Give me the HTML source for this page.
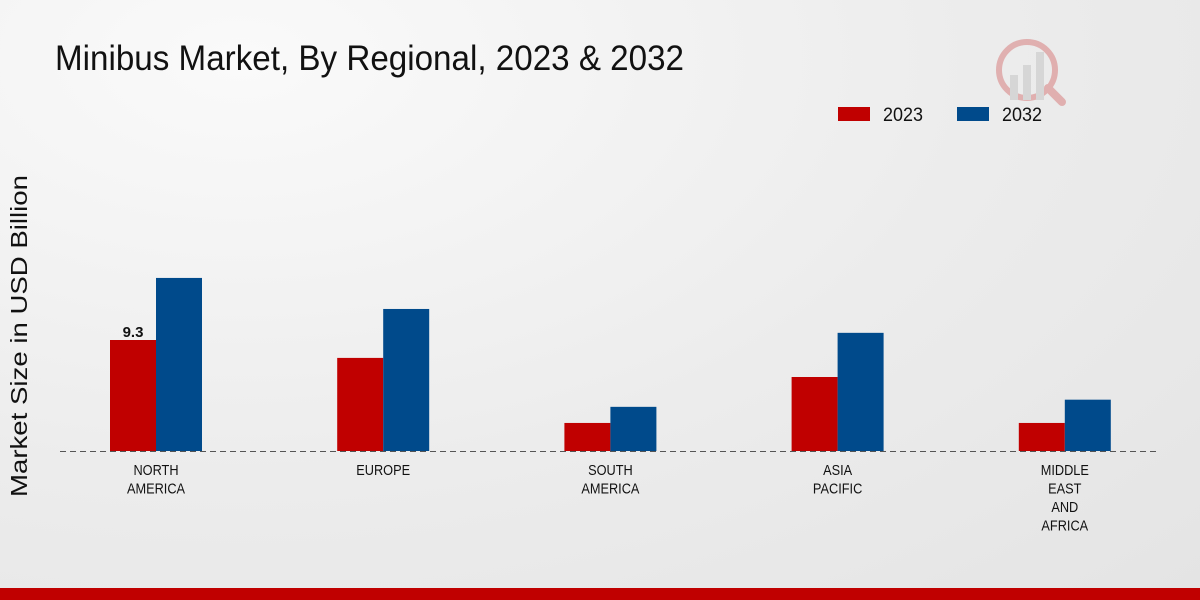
<!DOCTYPE html>
<html><head><meta charset="utf-8"><style>
body{margin:0;width:1200px;height:600px;overflow:hidden;font-family:"Liberation Sans Narrow","Liberation Sans",sans-serif;}
#bg{position:absolute;left:0;top:0;width:1200px;height:600px;background:radial-gradient(ellipse at 20% 10%,#fafafa 0%,#ececec 55%,#e4e4e4 100%);}
</style></head><body>
<div id="bg"></div>
<svg id="c" width="1200" height="600" style="position:absolute;left:0;top:0">
<text x="55" y="70" font-size="35" fill="#111" textLength="629" lengthAdjust="spacingAndGlyphs">Minibus Market, By Regional, 2023 &amp; 2032</text>
<text transform="translate(27,336) rotate(-90)" text-anchor="middle" font-size="23" fill="#111" textLength="322" lengthAdjust="spacingAndGlyphs" font-family="Liberation Sans, sans-serif">Market Size in USD Billion</text>
<g>
<rect x="838" y="107" width="32" height="14" fill="#c00000"/>
<text x="883" y="121" font-size="19" fill="#111" textLength="40" lengthAdjust="spacingAndGlyphs">2023</text>
<rect x="957" y="107" width="32" height="14" fill="#004a8b"/>
<text x="1002" y="121" font-size="19" fill="#111" textLength="40" lengthAdjust="spacingAndGlyphs">2032</text>
</g>
<g opacity="0.25">
<circle cx="1027" cy="70" r="28" fill="none" stroke="#c00000" stroke-width="6"/>
<rect x="1010" y="75" width="8" height="25" fill="#999"/><rect x="1023" y="65" width="8" height="35" fill="#999"/><rect x="1036" y="52" width="8" height="48" fill="#999"/>
<line x1="1048" y1="88" x2="1062" y2="102" stroke="#c00000" stroke-width="8" stroke-linecap="round"/>
</g>
<line x1="60" y1="451.5" x2="1160" y2="451.5" stroke="#555" stroke-dasharray="6,4"/>
<g id="bars"></g>
<rect x="0" y="588" width="1200" height="12" fill="#c00000"/>
</svg>
<script>
const categories=[["NORTH","AMERICA"],["EUROPE"],["SOUTH","AMERICA"],["ASIA","PACIFIC"],["MIDDLE","EAST","AND","AFRICA"]];
const values2023=[9.3,7.8,2.35,6.2,2.35];
const values2032=[14.5,11.9,3.7,9.9,4.3];
const labeled=[9.3,null,null,null,null];
const ns="http://www.w3.org/2000/svg";
const g=document.getElementById('bars');
const base=451, scale=111/9.3;
const xc=i=>156+i*227.2;
const y=v=>base-v*scale;
function el(t,a){const e=document.createElementNS(ns,t);for(const k in a)e.setAttribute(k,a[k]);g.appendChild(e);return e;}
categories.forEach((c,i)=>{
 const r=el('rect',{x:xc(i)-46,y:y(values2023[i]),width:46,height:values2023[i]*scale,fill:'#c00000'});
 
 
 const b=el('rect',{x:xc(i),y:y(values2032[i]),width:46,height:values2032[i]*scale,fill:'#004a8b'});
 
 
 if(labeled[i]!=null){const t=el('text',{x:xc(i)-23,y:y(values2023[i])-3,'text-anchor':'middle','font-size':15,'font-weight':'bold',fill:'#111','font-family':'Liberation Sans, sans-serif'});t.textContent=labeled[i];
 
 }
 c.forEach((l,j)=>{const t=el('text',{x:xc(i),y:475+j*18.5,'text-anchor':'middle','font-size':15,fill:'#111'});t.textContent=l;
 
 
 const w=t.getComputedTextLength();t.setAttribute('textLength',w*0.85);t.setAttribute('lengthAdjust','spacingAndGlyphs');});
});
</script>
</body></html>
